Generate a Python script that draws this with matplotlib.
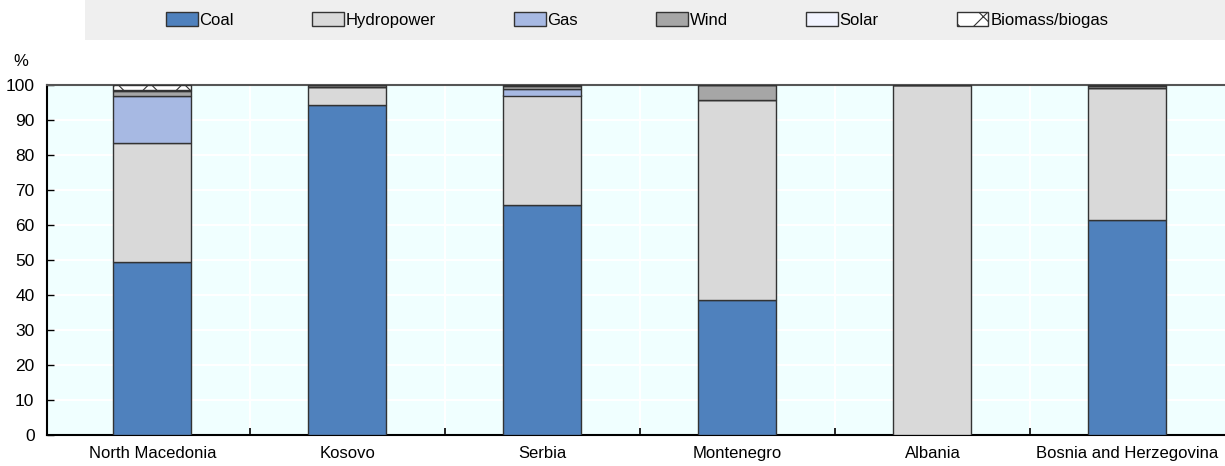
import numpy as np
import matplotlib
matplotlib.use("Agg")
import matplotlib.pyplot as plt
from matplotlib.patches import Rectangle, Patch

plt.rcParams["font.family"] = ["Liberation Sans", "DejaVu Sans"]
plt.rcParams["hatch.linewidth"] = 0.8

countries = ["North Macedonia", "Kosovo", "Serbia", "Montenegro", "Albania",
             "Bosnia and Herzegovina"]
sources = ["Coal", "Hydropower", "Gas", "Wind", "Solar", "Biomass/biogas"]

# share of electricity generation, %
coal = [49.5, 94.3, 65.7, 38.5, 0.0, 61.5]
hydro = [33.8, 5.2, 31.3, 57.2, 100.0, 37.7]
gas = [13.5, 0.0, 1.8, 0.0, 0.0, 0.0]
wind = [1.6, 0.4, 1.0, 4.2, 0.0, 0.5]
solar = [0.2, 0.1, 0.1, 0.1, 0.0, 0.2]
biomass = [1.4, 0.0, 0.1, 0.0, 0.0, 0.1]

series = [coal, hydro, gas, wind, solar, biomass]
colors = ["#4F81BD", "#D9D9D9", "#A7B9E3", "#A6A6A6", "#F2F4FF", "#FFFFFF"]
hatches = [None, None, None, None, None, "\\/"]

fig = plt.figure(figsize=(12.25, 4.66), dpi=100)
ax = fig.add_axes([47 / 1225, 1 - 435 / 466, 1 - 47 / 1225, (435 - 85) / 466])
ax.set_facecolor("#F0FFFF")

x = np.arange(len(countries))
bottom = np.zeros(len(countries))
for vals, col, h in zip(series, colors, hatches):
    vals = np.array(vals)
    ax.bar(x, vals, 0.4, bottom=bottom, color=col, edgecolor="#333333",
           linewidth=1, hatch=h, zorder=3)
    bottom += vals

ax.set_xlim(-0.54, 5.5)
ax.set_ylim(0, 100)
ax.set_yticks(np.arange(0, 101, 10))
ax.set_xticks(x)
ax.set_xticklabels(countries, fontsize=12)
ax.set_xticks(x[:-1] + 0.5, minor=True)
ax.tick_params(axis="x", which="major", length=0, pad=8)
ax.tick_params(axis="x", which="minor", direction="in", length=5, width=1.2)
ax.tick_params(axis="y", direction="in", length=5, labelsize=12.5, width=1, pad=9)
ax.yaxis.grid(True, color="white", linewidth=1.5, zorder=0)
ax.xaxis.grid(True, which="minor", color="white", linewidth=1.5, zorder=0)
ax.set_axisbelow(True)

for s in ["left", "bottom"]:
    ax.spines[s].set_color("black")
    ax.spines[s].set_linewidth(1.5)
ax.spines["top"].set_color("#555555")
ax.spines["top"].set_linewidth(1.5)
ax.spines["right"].set_visible(False)

fig.text(13 / 1225, 1 - 62 / 466, "%", fontsize=12, ha="left", va="center")

# legend strip
fig.patches.append(Rectangle((85 / 1225, 1 - 40 / 466), 1 - 85 / 1225, 40 / 466,
                             transform=fig.transFigure, facecolor="#EFEFEF",
                             edgecolor="none", zorder=0))
handles = [Patch(facecolor=c, edgecolor="#333333", hatch=h, linewidth=1)
           for c, h in zip(colors, hatches)]
fig.legend(handles, sources, loc="center", bbox_to_anchor=(637 / 1225, 1 - 20 / 466),
           ncol=6, frameon=False, fontsize=12, handlelength=1.9, handleheight=0.9,
           handletextpad=0.1, columnspacing=4.7, borderpad=0)

fig.savefig("out.png", dpi=100)
